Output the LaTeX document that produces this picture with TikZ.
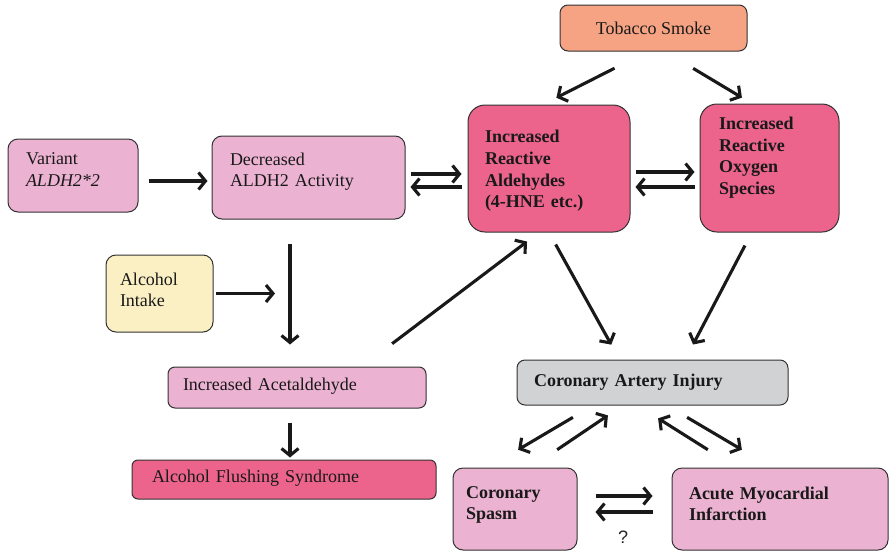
\documentclass[tikz,border=0pt]{standalone}
\usepackage{fontspec}
\setmainfont{Liberation Serif}
\newfontfamily\qfont{Liberation Sans}
\usepackage{tikz}
\usetikzlibrary{arrows.meta}
\definecolor{palepink}{RGB}{236,178,210}
\definecolor{hotpink}{RGB}{236,100,140}
\definecolor{salmon}{RGB}{245,163,131}
\definecolor{cream}{RGB}{251,240,196}
\definecolor{lightgrey}{RGB}{209,210,212}
\definecolor{edge}{RGB}{50,50,50}
\tikzstyle{block}=[rectangle, draw=edge, line width=1pt, rounded corners=10pt,
                   align=left, inner xsep=17pt, text=black!90,
                   font=\fontsize{18}{21.7}\selectfont]
\tikzstyle{keyblock}=[block, font=\fontsize{18}{21.7}\selectfont\bfseries]
\tikzstyle{line}=[draw, line width=3.1pt, black!90, -{Straight Barb[length=7pt,width=17pt]}]

\begin{document}
\begin{tikzpicture}[x=1pt, y=-1pt]
    \useasboundingbox (0,0) rectangle (889,552);
    \node [block, fill=palepink, text width=94pt, inner xsep=18pt, minimum height=73pt,
           text depth=33.3pt] at (73,175.5) (variant) {Variant\\\textit{ALDH2*2}};
    \node [block, fill=palepink, text width=157pt, inner xsep=18pt, minimum height=83pt,
           text depth=37.3pt] at (308.5,177.5) (decreased) {Decreased\\ALDH2 Activity};
    \node [block, fill=salmon, align=center, rounded corners=8pt, minimum width=187pt,
           minimum height=46pt] at (653.5,28) (tobacco) {Tobacco Smoke};
    \node [keyblock, fill=hotpink, text width=128pt, rounded corners=17pt, minimum height=127pt,
           text depth=63.9pt] at (549,168.5) (aldehydes) {Increased\\Reactive\\Aldehydes\\(4-HNE etc.)};
    \node [keyblock, fill=hotpink, text width=101pt, inner xsep=19pt, rounded corners=17pt,
           minimum height=128pt, text depth=89.7pt] at (769.5,168) (ros) {Increased\\Reactive\\Oxygen\\Species};
    \node [block, fill=cream, text width=79pt, inner xsep=14pt, minimum height=77pt,
           text depth=29.3pt] at (159.5,293.5) (alcohol) {Alcohol\\Intake};
    \node [block, fill=palepink, text width=228pt, inner xsep=15pt, rounded corners=7pt,
           minimum height=41pt, text depth=7.3pt] at (297,387.5) (acetal) {Increased Acetaldehyde};
    \node [block, fill=hotpink, text width=264pt, inner xsep=20pt, rounded corners=6pt,
           minimum height=39pt, text depth=5.9pt] at (284,479.5) (flushing) {Alcohol Flushing Syndrome};
    \node [keyblock, fill=lightgrey, text width=237pt, rounded corners=8pt,
           minimum height=45pt] at (652.5,382.5) (injury) {Coronary Artery Injury};
    \node [keyblock, fill=palepink, text width=98pt, inner xsep=13pt, minimum height=82pt,
           text depth=33.7pt] at (515,509) (spasm) {Coronary\\Spasm};
    \node [keyblock, fill=palepink, text width=182pt, minimum height=82pt,
           text depth=32.3pt] at (780,509) (ami) {Acute Myocardial\\Infarction};
    \node [font=\qfont\fontsize{18}{20}\selectfont, text=black!85] at (623,537) (q) {?};
    \coordinate (join) at ([xshift=-18.5pt]decreased.south |- alcohol.east);
    \path [line, shorten <=10pt, shorten >=4pt] ([yshift=-5.5pt]variant.east) -- ([yshift=-5.5pt]variant.east -| decreased.west);
    \path [line, shorten <=5pt, shorten >=6pt] ([yshift=3.5pt]decreased.east) -- ([yshift=3.5pt]decreased.east -| aldehydes.west);
    \path [line, shorten <=6pt, shorten >=5pt] ([yshift=-9.5pt]decreased.east -| aldehydes.west) -- ([yshift=-9.5pt]decreased.east);
    \path [line, shorten <=5pt, shorten >=5pt] ([yshift=-3.5pt]aldehydes.east) -- ([yshift=-3.5pt]aldehydes.east -| ros.west);
    \path [line, shorten <=5pt, shorten >=5pt] ([yshift=-18.5pt]aldehydes.east -| ros.west) -- ([yshift=-18.5pt]aldehydes.east);
    \path [line, shorten <=37pt, shorten >=15pt] ([xshift=-6pt]tobacco.south) -- ([xshift=-6pt]aldehydes.north);
    \path [line, shorten <=32.8pt, shorten >=11.5pt] ([xshift=11.5pt]tobacco.south) -- ([xshift=-17.7pt]ros.north);
    \path [line, shorten <=24pt, shorten >=22pt] ([xshift=-18.5pt]decreased.south) -- ([xshift=-18.5pt]decreased.south |- acetal.north);
    \path [line, shorten <=2pt, shorten >=15pt] (alcohol.east) -- (join);
    \path [line, shorten <=14pt, shorten >=2pt] ([xshift=-7pt]acetal.south) -- ([xshift=-7pt]acetal.south |- flushing.north);
    \path [line, shorten <=37.8pt, shorten >=15pt] ([xshift=65pt]acetal.north) -- ([xshift=-10pt]aldehydes.south);
    \path [line, shorten <=13.7pt, shorten >=17pt] (aldehydes.south) -- ([xshift=-33pt]injury.north);
    \path [line, shorten <=14.7pt, shorten >=16.9pt] ([xshift=-17.7pt]ros.south) -- ([xshift=32.7pt]injury.north);
    \path [line, shorten <=23.3pt, shorten >=35pt] ([xshift=-59.5pt]injury.south) -- ([xshift=-27pt]spasm.north);
    \path [line, shorten <=31.8pt, shorten >=17.7pt] ([xshift=15.8pt]spasm.north) -- ([xshift=-29.9pt]injury.south);
    \path [line, shorten <=33.4pt, shorten >=24.1pt] ([xshift=-43.9pt]ami.north) -- ([xshift=-14.8pt]injury.south);
    \path [line, shorten <=23.3pt, shorten >=35pt] ([xshift=14.5pt]injury.south) -- ([xshift=-8pt]ami.north);
    \path [line, shorten <=18pt, shorten >=19pt] ([yshift=13pt]spasm.east) -- ([yshift=13pt]spasm.east -| ami.west);
    \path [line, shorten <=19pt, shorten >=18pt] ([yshift=-3pt]spasm.east -| ami.west) -- ([yshift=-3pt]spasm.east);
\end{tikzpicture}
\end{document}
